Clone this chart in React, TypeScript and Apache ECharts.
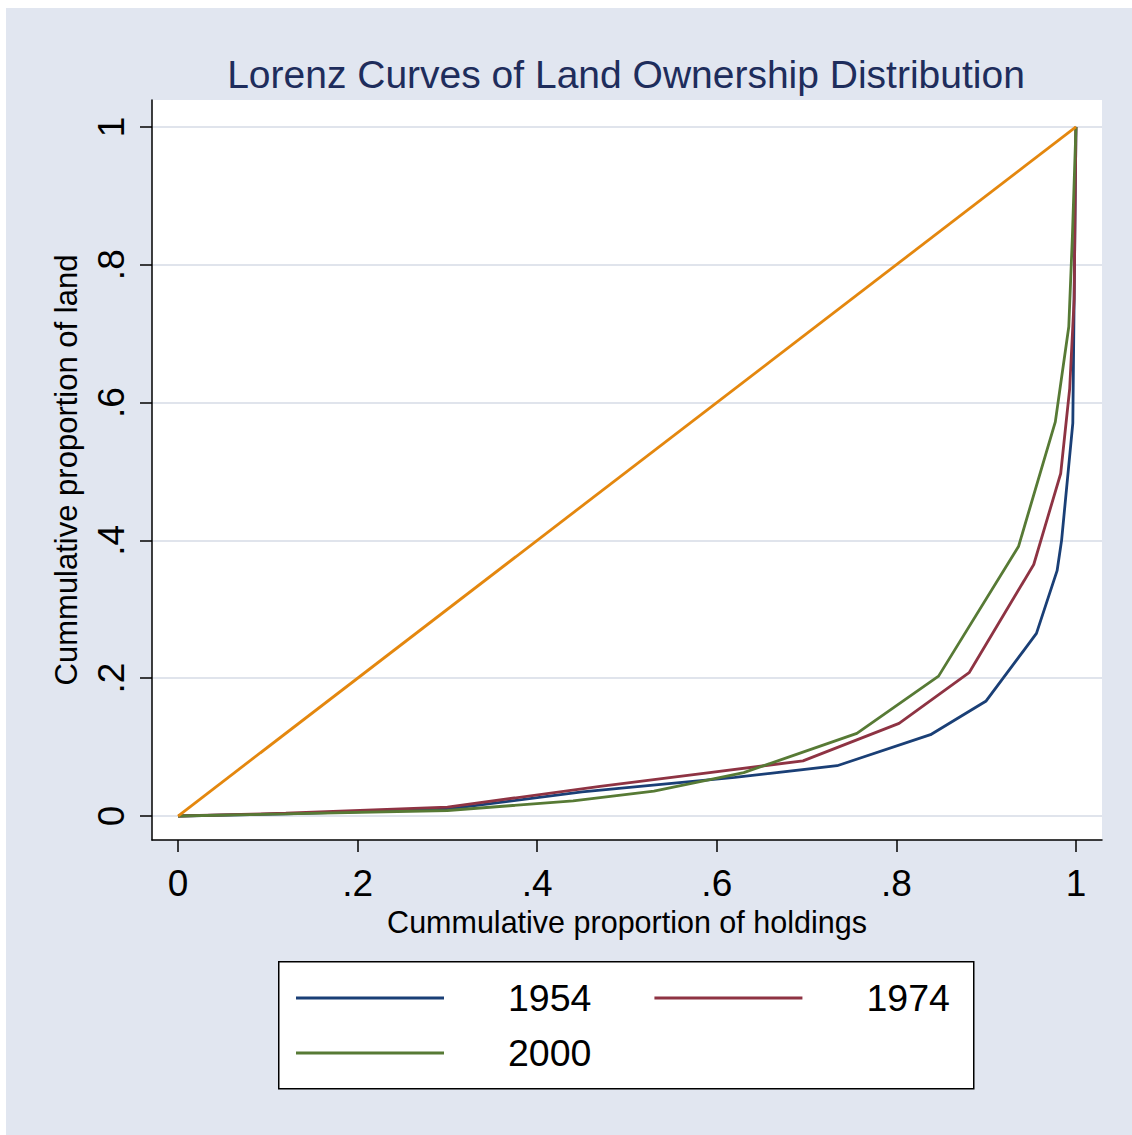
import React, { useEffect, useRef } from "react";
import * as echarts from "echarts";

const xTicks = [0, 0.2, 0.4, 0.6, 0.8, 1];
const yTicks = [0, 0.2, 0.4, 0.6, 0.8, 1];

const x1954 = [0, 0.12, 0.3, 0.45, 0.62, 0.734, 0.838, 0.9, 0.956, 0.979, 0.984, 0.9965, 1];
const y1954 = [0, 0.003, 0.01, 0.035, 0.056, 0.073, 0.118, 0.167, 0.265, 0.356, 0.4, 0.57, 1];

const x1974 = [0, 0.12, 0.3, 0.47, 0.696, 0.803, 0.881, 0.953, 0.983, 0.993, 0.998, 1];
const y1974 = [0, 0.004, 0.013, 0.043, 0.08, 0.1345, 0.208, 0.365, 0.497, 0.62, 0.75, 1];

const x2000 = [0, 0.12, 0.3, 0.44, 0.53, 0.63, 0.756, 0.847, 0.936, 0.977, 0.992, 0.996, 1];
const y2000 = [0, 0.003, 0.008, 0.022, 0.036, 0.063, 0.12, 0.203, 0.391, 0.572, 0.71, 0.84, 1];

const xEqual = [0, 1];
const yEqual = [0, 1];

const FONT = "Liberation Sans";

const fmt = (v: number) => {
  if (Math.abs(v) < 1e-9) return "0";
  if (Math.abs(v - 1) < 1e-9) return "1";
  return String(Math.round(v * 10) / 10).replace("0.", ".");
};

const pairs = (xs: number[], ys: number[]) => xs.map((x, i) => [x, ys[i]]);

export default function App() {
  const ref = useRef<HTMLDivElement>(null);
  useEffect(() => {
    if (!ref.current) return;
    const chart = echarts.init(ref.current, undefined, { renderer: "svg" });
    const lineSeries = (name: string, xs: number[], ys: number[], color: string) => ({
      name,
      type: "line",
      data: pairs(xs, ys),
      symbol: "none",
      lineStyle: { color, width: 2.8 },
      itemStyle: { color },
      z: 3,
    });
    const legendCommon = {
      icon: "rect",
      itemWidth: 148,
      itemHeight: 3,
      itemGap: 63,
      padding: 0,
      orient: "horizontal",
      textStyle: { fontSize: 37.5, color: "#000", fontFamily: FONT, padding: [0, 0, 0, 59] },
      z: 10,
    };
    chart.setOption({
      animation: false,
      backgroundColor: "#E1E6F0",
      textStyle: { fontFamily: FONT },
      title: {
        text: "Lorenz Curves of Land Ownership Distribution",
        left: 615,
        top: 42,
        textAlign: "center",
        textStyle: { fontSize: 39, fontWeight: "normal", color: "#1E2D5C", fontFamily: FONT },
      },
      grid: {
        left: 146,
        top: 92,
        width: 950,
        height: 740,
        show: true,
        backgroundColor: "#FFFFFF",
        borderWidth: 0,
      },
      graphic: [
        {
          type: "rect",
          left: 272,
          top: 953,
          shape: { width: 695, height: 127 },
          style: { fill: "#FFFFFF", stroke: "#000000", lineWidth: 1.5 },
          z: 1,
        },
      ],
      legend: [
        { ...legendCommon, data: ["1954", "1974"], left: 290, top: 971 },
        { ...legendCommon, data: ["2000"], left: 290, top: 1026 },
      ],
      xAxis: {
        type: "value",
        min: -0.029,
        max: 1.029,
        name: "Cummulative proportion of holdings",
        nameLocation: "middle",
        nameGap: 64,
        nameTextStyle: { fontSize: 30.5, color: "#000", fontFamily: FONT },
        axisLine: { show: true, onZero: false, lineStyle: { color: "#000", width: 1.5 } },
        axisTick: { show: true, length: 12, customValues: xTicks, lineStyle: { color: "#000", width: 1.5 } },
        axisLabel: { customValues: xTicks, formatter: fmt, fontSize: 37, color: "#000", margin: 25, fontFamily: FONT },
        splitLine: { show: false },
      },
      yAxis: {
        type: "value",
        min: -0.0348,
        max: 1.039,
        name: "Cummulative proportion of land",
        nameLocation: "middle",
        nameGap: 70,
        nameRotate: 90,
        nameTextStyle: { fontSize: 31, color: "#000", fontFamily: FONT },
        axisLine: { show: true, onZero: false, lineStyle: { color: "#000", width: 1.5 } },
        axisTick: { show: true, length: 12, customValues: yTicks, lineStyle: { color: "#000", width: 1.5 } },
        axisLabel: { customValues: yTicks, formatter: fmt, fontSize: 37, color: "#000", margin: 22, rotate: 90, fontFamily: FONT },
        splitLine: { show: true, lineStyle: { color: "#E0E4EC", width: 2 } },
      },
      series: [
        lineSeries("1954", x1954, y1954, "#1A3F76"),
        lineSeries("1974", x1974, y1974, "#8E3343"),
        lineSeries("2000", x2000, y2000, "#577A35"),
        lineSeries("equality", xEqual, yEqual, "#E4870E"),
      ],
    });
    return () => chart.dispose();
  }, []);
  return (
    <div
      ref={ref}
      style={{ position: "fixed", left: 6, top: 8, width: 1126, height: 1127 }}
    />
  );
}
